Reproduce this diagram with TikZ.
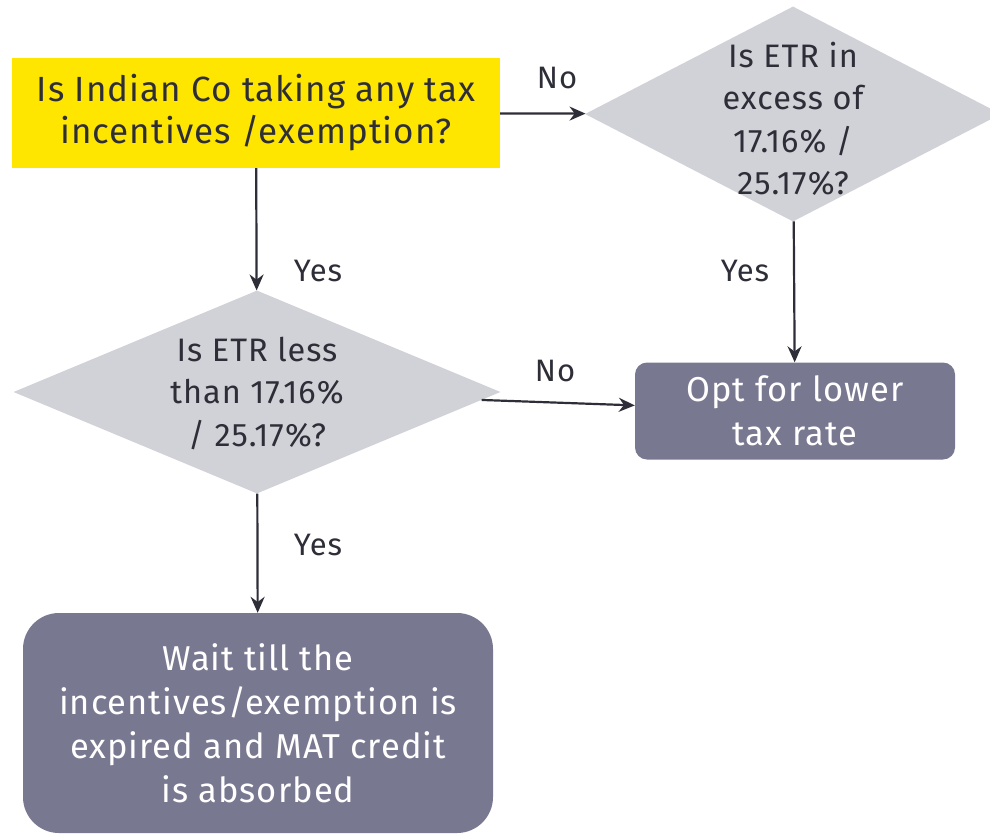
\documentclass[tikz,border=0pt]{standalone}
\usepackage{fontspec}
\setmainfont{Fira Sans}[LetterSpace=3]
\usetikzlibrary{arrows.meta,shapes.geometric}
\definecolor{cYellow}{HTML}{FFE600}
\definecolor{cAsk}{HTML}{D1D1D8}
\definecolor{cAct}{HTML}{797891}
\definecolor{cInk}{HTML}{2E2E38}

\begin{document}
\begin{tikzpicture}[
  x=1pt, y=-1pt,
  font=\fontsize{32.5}{42.5}\selectfont,
  start/.style={fill=cYellow, text=cInk, align=center, inner sep=0pt,
                minimum width=488pt, minimum height=110pt,
                font=\fontsize{35}{42}\selectfont},
  ask/.style 2 args={diamond, fill=cAsk, inner sep=0pt,
                     minimum width=#1, minimum height=#2},
  asktxt/.style={text=cInk, align=center, inner sep=0pt},
  act/.style n args={3}{fill=cAct, text=white, align=center, inner sep=0pt,
                     rounded corners=#3, minimum width=#1, minimum height=#2,
                     font=\fontsize{34.5}{44}\selectfont},
  flow/.style={-{Stealth[length=16pt,width=14pt]}, line width=2.2pt, draw=cInk},
  ans/.style={text=cInk, font=\fontsize{31}{34}\selectfont, inner sep=0pt},
]
\useasboundingbox (0,0) rectangle (990,833);
\clip (0,0) rectangle (990,833);

% ---------------- questions ----------------
\node[start] (q1) at (256,113)
  {Is Indian Co taking any tax\\incentives /exemption?};

\node[ask={416pt}{215pt}] (d2) at (793,114) {};
\node[asktxt] (d2txt) at (793,119)
  {Is ETR in\\excess of\\17.16\% /\\25.17\%?};

\node[ask={487pt}{203pt}] (d1) at (257,392) {};
\node[asktxt] (d1txt) at (257,393)
  {Is ETR less\\than 17.16\%\\/ 25.17\%?};

% ---------------- outcomes ----------------
\node[act={320pt}{97pt}{12pt}] (r1) at (795,411) {Opt for lower\\tax rate};
\node[act={470pt}{220pt}{36pt}] (r2) at (258,723)
  {Wait till the\\incentives/exemption is\\expired and MAT credit\\is absorbed};

% ---------------- connectors ----------------
\draw[flow] (q1) -- (d2);
\draw[flow] (q1) -- (d1);
\draw[flow] (d2) -- (r1);
\draw[flow] (d1) -- (r1);
\draw[flow] (d1) -- (r2);

\node[ans] (noA)  at (557,78)  {No};
\node[ans] (yesA) at (318,271) {Yes};
\node[ans] (yesB) at (745,271) {Yes};
\node[ans] (noB)  at (555,371) {No};
\node[ans] (yesC) at (318,545) {Yes};

\end{tikzpicture}
\end{document}
